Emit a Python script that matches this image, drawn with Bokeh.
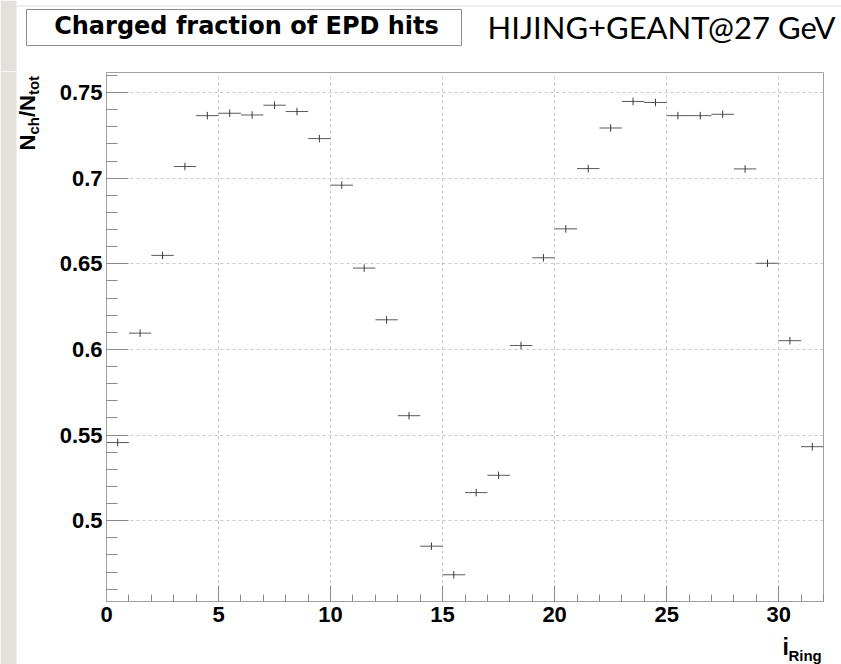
import math
from bokeh.plotting import figure
from bokeh.layouts import column, row
from bokeh.models import Range1d, FixedTicker, ColumnDataSource
from bokeh.core.properties import value
from bokeh.embed import file_html
from bokeh.resources import INLINE

# ---------------- data ----------------
ring = list(range(32))
fraction = [0.5456, 0.6095, 0.6549, 0.7068, 0.7365, 0.7379, 0.7369, 0.7426, 0.7389, 0.7231,
            0.6959, 0.6475, 0.6173, 0.5613, 0.4851, 0.4684, 0.5164, 0.5265, 0.6023, 0.6535,
            0.6704, 0.7056, 0.7293, 0.7448, 0.7442, 0.7365, 0.7365, 0.7373, 0.7054, 0.6503,
            0.6051, 0.5432]
errors = [0.0022, 0.0022, 0.0022, 0.0022, 0.0022, 0.0022, 0.0022, 0.0022, 0.0022, 0.0022,
          0.0022, 0.0022, 0.0022, 0.0022, 0.0022, 0.0022, 0.0022, 0.0022, 0.0022, 0.0022,
          0.0022, 0.0022, 0.0022, 0.0022, 0.0022, 0.0022, 0.0022, 0.0022, 0.0022, 0.0022,
          0.0022, 0.0022]
x_ticks = [0, 5, 10, 15, 20, 25, 30]
x_tick_labels = ["0", "5", "10", "15", "20", "25", "30"]
y_ticks = [0.5, 0.55, 0.6, 0.65, 0.7, 0.75]
y_tick_labels = ["0.5", "0.55", "0.6", "0.65", "0.7", "0.75"]

title_text = "Charged fraction of EPD hits"
note_text = "HIJING+GEANT@27 GeV"

# ---------------- geometry (canvas pixels) ----------------
W, H = 841, 664
HEADER_H = 71
LEFT_W = 54
BOTTOM_H = 32
MAIN_W = W - LEFT_W
MAIN_H = H - HEADER_H - BOTTOM_H
STRIP_W = 16
STRIP_COLOR = "#e3e1dc"
ROOT_FONT = "Liberation Sans"


def panel(w, h):
    f = figure(width=w, height=h, output_backend="svg", toolbar_location=None,
               x_range=Range1d(0, w), y_range=Range1d(0, h),
               x_axis_type=None, y_axis_type=None, min_border=0,
               min_border_left=0, min_border_right=0, min_border_top=0, min_border_bottom=0,
               title=None)
    f.outline_line_color = None
    f.background_fill_color = "white"
    f.border_fill_color = "white"
    return f


# ---------------- header ----------------
hd = panel(W, HEADER_H)
hd.quad(left=[0], right=[STRIP_W], bottom=[0], top=[HEADER_H],
        fill_color=STRIP_COLOR, line_color=None)
hd.segment(x0=[STRIP_W], y0=[HEADER_H - 5.5], x1=[W], y1=[HEADER_H - 5.5],
           line_color="#dcdcdc", line_width=1)
hd.quad(left=[26], right=[461], top=[HEADER_H - 9], bottom=[HEADER_H - 45],
        fill_color="white", line_color="#8c8c8c", line_width=1)
hd.text(x=[246], y=[HEADER_H - 25.5], text=[title_text], text_align="center",
        text_baseline="middle", text_font=value("DejaVu Sans"),
        text_font_style="bold", text_font_size="24px", text_color="black")
hd.text(x=[661], y=[HEADER_H - 26.7], text=[note_text], text_align="center",
        text_baseline="middle", text_font=value("Lato"),
        text_font_size="31px", text_color="black")

# ---------------- left panel (y title) ----------------
LH = H - HEADER_H
lf = panel(LEFT_W, LH)
lf.quad(left=[0], right=[STRIP_W], bottom=[0], top=[LH],
        fill_color=STRIP_COLOR, line_color=None)
# (text, size, x of middle line, advance along the text)
pieces = [("N", 22, 27.2, 15.9), ("ch", 15, 33.3, 17.5), ("/", 22, 27.2, 6.1),
          ("N", 22, 27.2, 15.9), ("tot", 15, 33.3, 19.2)]
cy = 150.0
for txt, size, mx, adv in pieces:
    lf.text(x=[mx], y=[H - cy], text=[txt], angle=math.pi / 2,
            text_align="left", text_baseline="middle",
            text_font=value(ROOT_FONT), text_font_style="bold",
            text_font_size=f"{size}px", text_color="black")
    cy -= adv

# ---------------- main plot ----------------
p = figure(width=MAIN_W, height=MAIN_H, output_backend="svg", toolbar_location=None,
           x_range=Range1d(0, 32), y_range=Range1d(0.4528, 0.7617),
           min_border_left=106 - LEFT_W, min_border_right=18,
           min_border_top=72 - HEADER_H, min_border_bottom=MAIN_H - (72 - HEADER_H) - 529,
           title=None)
p.background_fill_color = "white"
p.border_fill_color = "white"
p.outline_line_color = "#a0a0a0"
p.outline_line_width = 1

src = ColumnDataSource(dict(
    xl=[r for r in ring],
    xr=[r + 1 for r in ring],
    xc=[r + 0.5 for r in ring],
    y=fraction,
    ylo=[f - e for f, e in zip(fraction, errors)],
    yhi=[f + e for f, e in zip(fraction, errors)],
))
p.segment(x0="xl", y0="y", x1="xr", y1="y", source=src, line_color="#5a5a5a", line_width=1)
p.segment(x0="xc", y0="ylo", x1="xc", y1="yhi", source=src, line_color="#3a3a3a", line_width=1)

x_minor = list(range(0, 33))
y_minor = [round(0.45 + 0.01 * k, 2) for k in range(32)]
p.xaxis.ticker = FixedTicker(ticks=x_ticks, minor_ticks=x_minor)
p.yaxis.ticker = FixedTicker(ticks=y_ticks, minor_ticks=y_minor)
p.xaxis.major_label_overrides = dict(zip(x_ticks, x_tick_labels))
p.yaxis.major_label_overrides = dict(zip(y_ticks, y_tick_labels))

for ax in (p.xaxis, p.yaxis):
    ax.axis_line_color = "#a0a0a0"
    ax.major_tick_line_color = "#8a8a8a"
    ax.minor_tick_line_color = "#8a8a8a"
    ax.major_tick_out = 0
    ax.minor_tick_out = 0
    ax.major_label_text_font = ROOT_FONT
    ax.major_label_text_font_style = "bold"
    ax.major_label_text_font_size = "22px"
    ax.major_label_text_color = "black"

p.xaxis.major_tick_in = 16
p.xaxis.minor_tick_in = 7
p.xaxis.major_label_standoff = 5
p.yaxis.major_tick_in = 22
p.yaxis.minor_tick_in = 11
p.yaxis.major_label_standoff = 4

p.grid.grid_line_color = "#c8c8c8"
p.grid.grid_line_dash = "3 3"
p.grid.grid_line_width = 1

# ---------------- bottom panel (x title) ----------------
bt = panel(MAIN_W, BOTTOM_H)
BT_DX = 13  # compensation measured from an earlier render
bt.text(x=[783 - LEFT_W + BT_DX], y=[H - 646], text=["i"], text_align="left",
        text_baseline="middle", text_font=value(ROOT_FONT), text_font_style="bold",
        text_font_size="23px", text_color="black")
bt.text(x=[789.5 - LEFT_W + BT_DX], y=[H - 655], text=["Ring"], text_align="left",
        text_baseline="middle", text_font=value(ROOT_FONT), text_font_style="bold",
        text_font_size="15px", text_color="black")

layout = column(hd, row(lf, column(p, bt, spacing=0), spacing=0), spacing=0)

open("out.html", "w").write(file_html(layout, INLINE))
